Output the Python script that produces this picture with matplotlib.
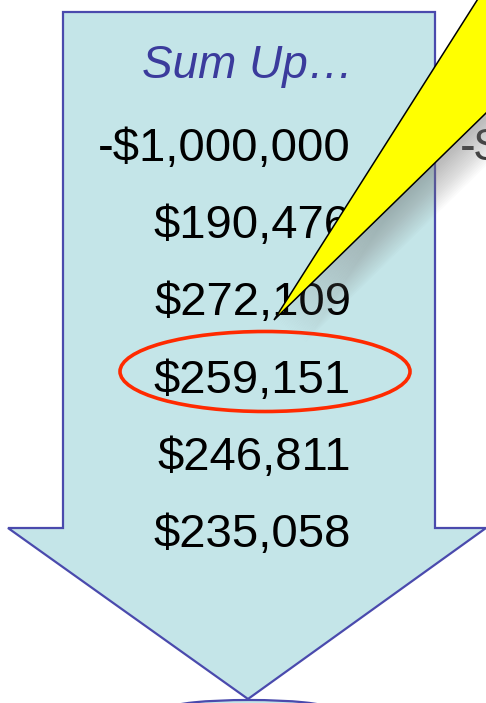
import matplotlib
matplotlib.use("Agg")
import matplotlib.pyplot as plt
from matplotlib.patches import Polygon, Ellipse

# ---- data ----
title = "Sum Up\u2026"
values = [-1000000, 190476, 272109, 259151, 246811, 235058]
highlight = 259151
side_value = -1000000


def money(v):
    return f"-${abs(v):,}" if v < 0 else f"${v:,}"


W, H = 486, 703
fig = plt.figure(figsize=(W / 100, H / 100), dpi=100)
ax = fig.add_axes([0, 0, 1, 1])
ax.set_xlim(0, W); ax.set_ylim(H, 0); ax.axis("off")
plt.rcParams["font.family"] = ["Liberation Sans", "DejaVu Sans"]

fill, edge = "#c4e5e8", "#4a4aad"

# ---- down arrow ----
arrow = [(63, 12), (435, 12), (435, 528), (486, 528), (248, 699),
         (8, 528), (63, 528)]
ax.add_patch(Polygon(arrow, closed=True, fc=fill, ec=edge, lw=1.6, zorder=1))
ax.add_patch(Ellipse((249, 708), 156, 16, fc=fill, ec=edge, lw=1.6, zorder=1))

# ---- text column ----
ax.text(248, 78, title, ha="center", va="baseline", fontsize=33, style="italic",
        color="#3b3b9c", zorder=2)
base0, step = 161, 77.2
for i, v in enumerate(values):
    ax.text(351, base0 + i * step, money(v), ha="right", va="baseline",
            fontsize=34, color="black", zorder=2)
    if v == highlight:
        ax.add_patch(Ellipse((265, 371.5), 290, 80, fill=False, ec="#ff2a00",
                             lw=2.6, zorder=3))
# partially visible neighbour column (cut by the right edge, as in the original)
ax.text(460, base0, money(side_value), ha="left", va="baseline", fontsize=34,
        color="#333333", zorder=2, clip_on=True)

# ---- callout with soft shadow ----
callout = [(274, 320), (509, -50), (653, -50)]
for k in range(20):
    d = 3 + k * 1.5
    shifted = [(x + d, y + d * 0.7) for x, y in callout]
    ax.add_patch(Polygon(shifted, closed=True, fc="#808080", ec="none",
                         alpha=0.03, zorder=4))
ax.add_patch(Polygon(callout, closed=True, fc="#ffff00", ec="black", lw=1.1,
                     zorder=5))

fig.savefig("out.png", dpi=100)
